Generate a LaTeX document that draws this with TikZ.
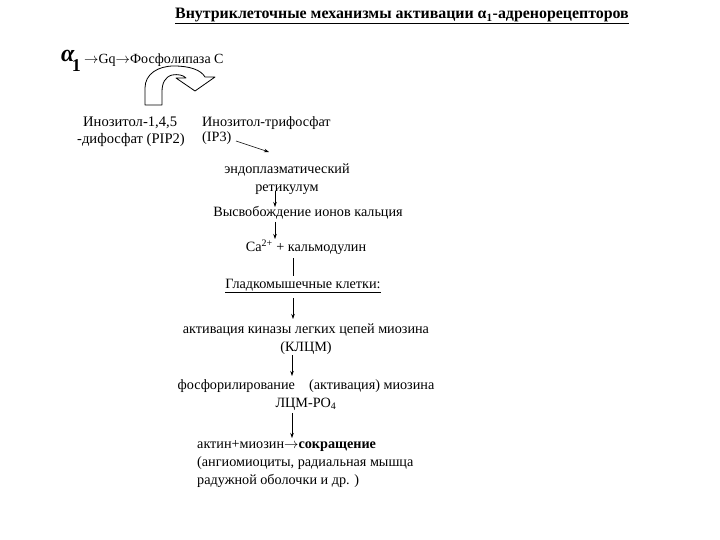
\documentclass[tikz,border=0pt]{standalone}
\usepackage{fontspec}
\setmainfont{Liberation Serif}
\usetikzlibrary{arrows.meta}
\newcommand{\rarr}{\ensuremath{\rightarrow}}
\tikzset{
  txt/.style={inner sep=0pt, font=\fontsize{14.2}{18}\selectfont},
  arr/.style={-{Stealth[length=5pt,width=3.5pt]}, line width=0.6pt},
  plain/.style={line width=0.6pt},
  uturn/.style={draw=black, line width=0.8pt, fill=white, line join=round}
}
\begin{document}
\begin{tikzpicture}[x=1pt,y=-1pt]
\useasboundingbox (0,0) rectangle (720,540);
% title
\node[txt, font=\fontsize{15.9}{18}\selectfont\bfseries] (title) at (402,16) {\underline{Внутриклеточные механизмы активации α\textsubscript{1}-адренорецепторов}};
% alpha line
\node[inner sep=0pt, anchor=base west, font=\fontsize{24}{26}\selectfont\bfseries\itshape] (alpha) at (61,62) {α\hspace{-2.5pt}\raisebox{-10pt}{\fontsize{18}{18}\selectfont\upshape 1}};
\node[inner sep=0pt, anchor=base west, font=\fontsize{14}{16}\selectfont] (gq) at (84,64) {\rarr Gq\rarr Фосфолипаза С};
% u-turn block arrow
\path[uturn] (145,105) -- (145,88)
  .. controls (145,74) and (158,66) .. (174,66)
  .. controls (190,66) and (201,70) .. (205,77)
  -- (215,77) -- (195,91) -- (176,78) -- (186,78)
  .. controls (183,75) and (178,74) .. (172,75)
  .. controls (165,77) and (162,83) .. (162,92)
  -- (162,105) -- cycle;
% PIP2
\node[txt, anchor=north west, align=left, font=\fontsize{14.6}{17}\selectfont] (pip) at (77,117) {\hspace*{6pt}Инозитол-1,4,5\\-дифосфат (PIP2)};
% IP3
\node[txt, anchor=north west, align=left, font=\fontsize{14.2}{15}\selectfont] (ip3) at (202,116) {Инозитол-трифосфат\\(IP3)};
\coordinate (ip3s) at (236,141);
\coordinate (ip3e) at (269,152);
\draw[arr] (ip3s) -- (ip3e);
% ER
\node[txt, align=center] (er) at (287,179) {эндоплазматический\\ретикулум};
\node[txt] (rel) at (308,213) {Высвобождение ионов кальция};
\node[txt] (cam) at (306,247) {Ca\textsuperscript{2+} + кальмодулин};
\node[txt] (smc) at (303,286) {\underline{Гладкомышечные клетки:}};
\node[txt, align=center] (mlck) at (306,339) {активация киназы легких цепей миозина\\(КЛЦМ)};
\node[txt, align=center] (phos) at (306,395) {фосфорилирование\quad (активация) миозина\\ЛЦМ-PO\textsubscript{4}};
\node[txt, anchor=north west, align=left] (act) at (197,440) {актин+миозин\rarr\textbf{сокращение}\\(ангиомиоциты, радиальная мышца\\радужной оболочки и др. )};
% connectors
\draw[arr] (275,191) -- (275,207);
\draw[arr] (275,222) -- (275,239);
\draw[plain] (293,258) -- (293,276);
\draw[arr] (293,298) -- (293,319);
\draw[arr] (292,355) -- (292,376);
\draw[arr] (292,413) -- (292,438);
\end{tikzpicture}
\end{document}
